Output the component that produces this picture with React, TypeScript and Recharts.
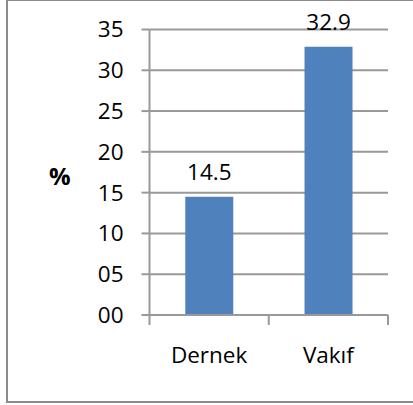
import { BarChart, Bar, XAxis, YAxis, CartesianGrid, LabelList } from "recharts";

// categories and percentages
const categories = ["Dernek", "Vakıf"];
const percents = [14.5, 32.9];
const yTicks = [0, 5, 10, 15, 20, 25, 30, 35];

const chartData = categories.map((name, i) => ({ name, value: percents[i] }));

const axisGray = "#999999";
const fontFamily = "'Open Sans', sans-serif";
const fontSize = 22.5;

// x ticks sit on the category boundaries, labels in the middle of each band
const CategoryTick = (props: any) => {
  const { x, y, payload, index, visibleTicksCount } = props;
  const half = payload.offset || 0;
  const isLast = index === visibleTicksCount - 1;
  return (
    <g>
      <line x1={x - half} x2={x - half} y1={y - 2} y2={y + 8} stroke={axisGray} strokeWidth={2} />
      {isLast && <line x1={x + half} x2={x + half} y1={y - 2} y2={y + 8} stroke={axisGray} strokeWidth={2} />}
      <text x={x} y={y + 30} dy="0.71em" textAnchor="middle" fontSize={fontSize} fill="#000">
        {payload.value}
      </text>
    </g>
  );
};

const App = () => {
  return (
    <div style={{ position: "absolute", left: 0, top: 0, width: 413, height: 405, background: "#fff" }}>
      <div
        style={{
          position: "absolute",
          left: 6,
          top: -1,
          width: 420,
          height: 404,
          border: "2px solid #8c8c8c",
          boxSizing: "border-box",
        }}
      />
      <BarChart
        width={413}
        height={405}
        data={chartData}
        margin={{ top: 29.5, right: 25, bottom: 50, left: 40 }}
        barCategoryGap="30%"
        style={{ position: "absolute", left: 0, top: 0, fontFamily }}
      >
        <CartesianGrid vertical={false} stroke={axisGray} strokeWidth={2} />
        <XAxis
          dataKey="name"
          height={40}
          stroke={axisGray}
          strokeWidth={2}
          tickLine={false}
          tickSize={0}
          tick={<CategoryTick />}
          interval={0}
        />
        <YAxis
          width={109.5}
          domain={[0, 35]}
          ticks={yTicks}
          interval={0}
          stroke={axisGray}
          strokeWidth={2}
          tickSize={8}
          tickMargin={18}
          tick={{ fontSize, fill: "#000" }}
          tickLine={{ stroke: axisGray, strokeWidth: 2 }}
          tickFormatter={(v: number) => String(v).padStart(2, "0")}
          label={{
            value: "%",
            position: "insideLeft",
            offset: 9,
            dy: 4,
            style: { fontSize: 24, fontWeight: 700, fill: "#000" },
          }}
        />
        <Bar dataKey="value" fill="#4f81bd" isAnimationActive={false}>
          <LabelList dataKey="value" position="top" offset={17} style={{ fontSize, fill: "#000" }} />
        </Bar>
      </BarChart>
    </div>
  );
};

export default App;
